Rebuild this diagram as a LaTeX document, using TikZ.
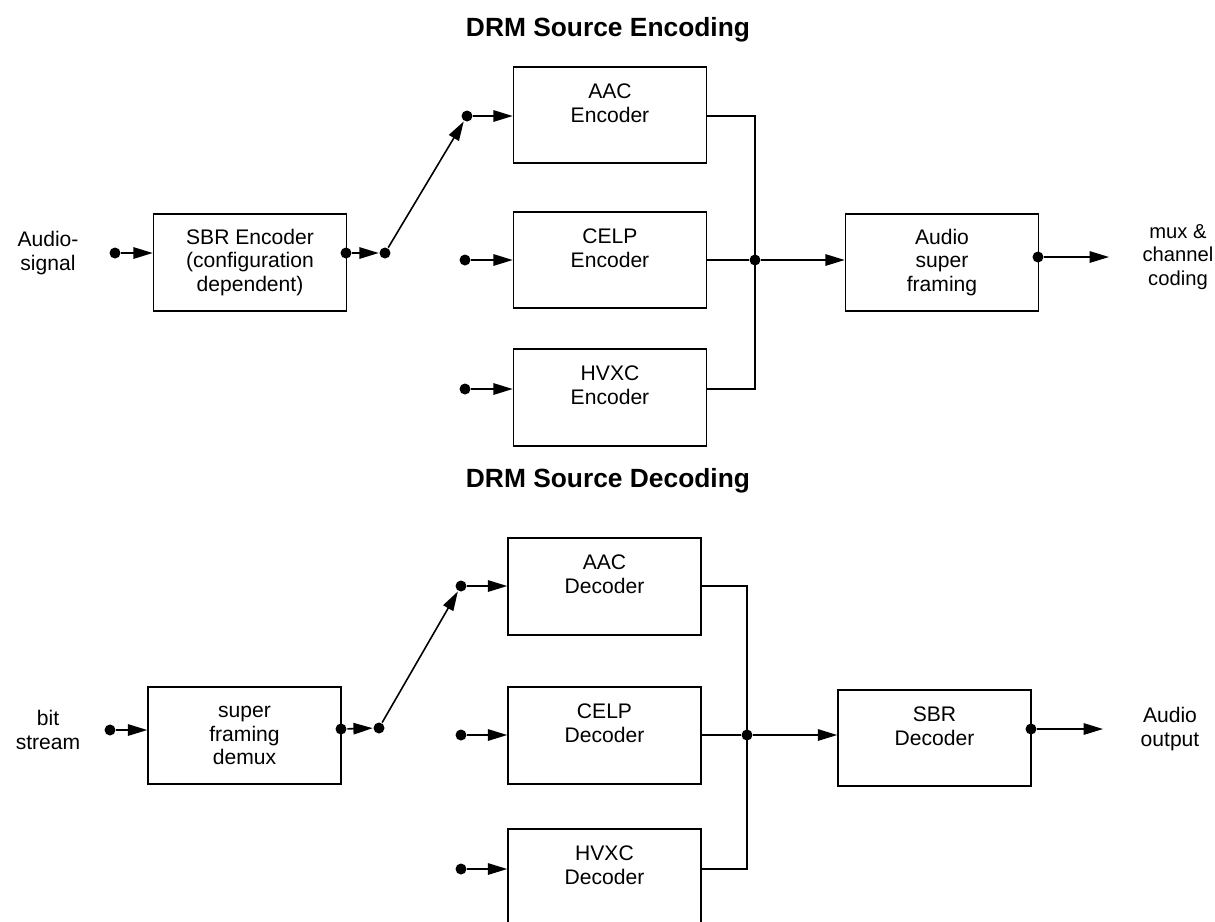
\documentclass[tikz,border=0pt]{standalone}
\usepackage{fontspec}
\setmainfont{Liberation Sans}
\usepackage{tikz}
\usetikzlibrary{arrows.meta}
\tikzset{>={Triangle[length=11pt,width=6.5pt]}}

\begin{document}
\begin{tikzpicture}[x=0.02cm,y=-0.02cm,line width=0.9pt,
	blk/.style={draw,minimum width=3.86cm,minimum height=1.93cm,align=center,font=\fontsize{12}{13.6}\selectfont},
	txt/.style={align=center,font=\fontsize{12}{13.6}\selectfont},
	ttl/.style={font=\fontsize{15}{18}\selectfont\bfseries},
	dot/.style={circle,fill,inner sep=0pt,minimum size=0.22cm}]
	\useasboundingbox (0,0) rectangle (1215,921);
	\clip (0,0) rectangle (1215,921);
	% encoding
	\node[ttl] (tenc) at (608,30) {DRM Source Encoding};
	\node[txt] (sig) at (48,253) {Audio-\\signal};
	\node[dot] (ine) at (115,253) {};
	\node[blk] (sbre) at (250,262.5) {SBR Encoder\\(configuration\\dependent)};
	\node[dot] (sbro) at (346,253) {};
	\node[dot] (swe) at (385,253) {};
	\node[dot] (aacei) at (467,116) {};
	\node[dot] (celpei) at (465,260) {};
	\node[dot] (hvxcei) at (465,389) {};
	\node[blk] (aace) at (610,115) {AAC\\Encoder\\ \mbox{}};
	\node[blk] (celpe) at (610,260) {CELP\\Encoder\\ \mbox{}};
	\node[blk] (hvxce) at (610,397.5) {HVXC\\Encoder\\ \mbox{}};
	\node[dot] (jne) at (755,260) {};
	\node[blk] (asf) at (942,262.5) {Audio\\super\\framing};
	\node[dot] (asfo) at (1038,257) {};
	\coordinate (muxin) at (1109,257);
	\node[txt,font=\fontsize{11.5}{13.6}\selectfont] (mux) at (1178,257) {mux \&\\channel\\coding};
	\draw[->] (ine) -- (ine -| sbre.west);
	\draw[->] (sbro) -- (swe);
	\draw[->] (swe) -- (aacei);
	\draw[->] (aacei) -- (aacei -| aace.west);
	\draw[->] (celpei) -- (celpei -| celpe.west);
	\draw[->] (hvxcei) -- (hvxcei -| hvxce.west);
	\draw (aace.east |- aacei) -- (jne |- aacei) -- (jne |- hvxcei) -- (hvxce.east |- hvxcei);
	\draw (celpe.east |- jne) -- (jne);
	\draw[->] (jne) -- (jne -| asf.west);
	\draw[->] (asfo) -- (muxin);
	% decoding
	\node[ttl] (tdec) at (608,481) {DRM Source Decoding};
	\node[txt] (bits) at (48,730) {bit\\stream};
	\node[dot] (ind) at (110,730) {};
	\node[blk] (sfd) at (244.5,735.5) {super\\framing\\demux};
	\node[dot] (sfdo) at (341,729) {};
	\node[dot] (swd) at (379,728) {};
	\node[dot] (aacdi) at (461,586) {};
	\node[dot] (celpdi) at (461,735) {};
	\node[dot] (hvxcdi) at (461,869) {};
	\node[blk] (aacd) at (604.5,586.5) {AAC\\Decoder\\ \mbox{}};
	\node[blk] (celpd) at (604.5,735.5) {CELP\\Decoder\\ \mbox{}};
	\node[blk] (hvxcd) at (604.5,877) {HVXC\\Decoder\\ \mbox{}};
	\node[dot] (jnd) at (747,735) {};
	\node[blk] (sbrd) at (934.5,738) {SBR\\Decoder\\ \mbox{}};
	\node[dot] (sbrdo) at (1031,729) {};
	\coordinate (outin) at (1103,729);
	\node[txt] (aout) at (1170,729) {Audio\\output};
	\draw[->] (ind) -- (ind -| sfd.west);
	\draw[->] (sfdo) -- (swd);
	\draw[->] (swd) -- (aacdi);
	\draw[->] (aacdi) -- (aacdi -| aacd.west);
	\draw[->] (celpdi) -- (celpdi -| celpd.west);
	\draw[->] (hvxcdi) -- (hvxcdi -| hvxcd.west);
	\draw (aacd.east |- aacdi) -- (jnd |- aacdi) -- (jnd |- hvxcdi) -- (hvxcd.east |- hvxcdi);
	\draw (celpd.east |- jnd) -- (jnd);
	\draw[->] (jnd) -- (jnd -| sbrd.west);
	\draw[->] (sbrdo) -- (outin);
\end{tikzpicture}
\end{document}
